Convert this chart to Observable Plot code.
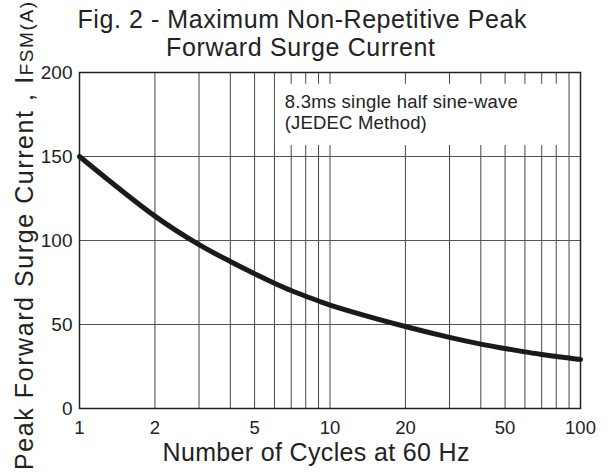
<!DOCTYPE html>
<html>
<head>
<meta charset="utf-8">
<script src="https://cdn.jsdelivr.net/npm/d3@7"></script>
<script src="https://cdn.jsdelivr.net/npm/@observablehq/plot@0.6"></script>
<style>
  html, body { margin: 0; padding: 0; background: #fff; }
  #chart svg { display: block; }
</style>
</head>
<body>
<div id="chart"></div>
<script>
// Data
const cycles = [1, 2, 3, 4, 5, 6, 7, 8, 9, 10, 20, 30, 40, 50, 60, 70, 80, 90, 100];
const surgeCurrent = [150, 114.5, 97.5, 87.5, 80.2, 74.6, 70.2, 66.8, 64, 61.6, 48.8, 42.3, 38.3, 35.7, 33.7, 32.2, 31, 30, 29.2];
const xGrid = [1, 2, 3, 4, 5, 6, 7, 8, 9, 10, 20, 30, 40, 50, 60, 70, 80, 90, 100];
const yGrid = [0, 50, 100, 150, 200];
const xTickLabels = [1, 2, 5, 10, 20, 50, 100];
const yTickLabels = [0, 50, 100, 150, 200];
const titleLines = ["Fig. 2 - Maximum Non-Repetitive Peak", "Forward Surge Current"];
const noteText = "8.3ms single half sine-wave\n(JEDEC Method)";
const noteBox = [{x1: 6, x2: 90, y1: 156.5, y2: 193}];
const notePos = [{x: 6.6, y: 187.9, text: noteText}];
const xLabel = "Number of Cycles at 60 Hz";

const data = cycles.map((c, i) => ({cycles: c, current: surgeCurrent[i]}));
const font = "'Liberation Sans', Arial, Helvetica, sans-serif";

const plot = Plot.plot({
  width: 611,
  height: 473,
  marginTop: 72,
  marginBottom: 65,
  marginLeft: 79,
  marginRight: 31,
  style: {fontFamily: font, background: "#fff", color: "#222"},
  x: {type: "log", domain: [1, 100], ticks: xTickLabels, tickFormat: d => String(d), label: null},
  y: {domain: [0, 200], ticks: yTickLabels, label: null},
  marks: [
    Plot.ruleX(xGrid, {stroke: "#444", strokeWidth: 1}),
    Plot.ruleY(yGrid, {stroke: "#555", strokeWidth: 1}),
    Plot.rect(noteBox, {x1: "x1", x2: "x2", y1: "y1", y2: "y2", fill: "#fff", insetLeft: 1, insetRight: 1}),
    Plot.text(notePos, {x: "x", y: "y", text: "text", textAnchor: "start", lineAnchor: "top", lineHeight: 1.15, fontSize: 18.5, fill: "#222", className: "note"}),
    Plot.frame({stroke: "#222", strokeWidth: 1.5}),
    Plot.axisX({ticks: xTickLabels, tickFormat: d => String(d), tickSize: 0, tickPadding: 12, fontSize: 18.5, label: null}),
    Plot.axisY({ticks: yTickLabels, tickSize: 0, tickPadding: 7, fontSize: 19, label: null}),
    Plot.line(data, {x: "cycles", y: "current", curve: "catmull-rom", stroke: "#1a1a1a", strokeWidth: 5, strokeLinecap: "round"})
  ]
});

document.getElementById("chart").appendChild(plot);

const svg = d3.select(plot);
// stretch annotation lines to the reference's widths
const noteWidths = [233, 142];
svg.selectAll(".note text tspan").each(function(d, i) {
  if (i < noteWidths.length) d3.select(this).attr("textLength", noteWidths[i]).attr("lengthAdjust", "spacing");
});

// Title
svg.append("text")
  .attr("x", 302).attr("y", 28)
  .attr("text-anchor", "middle")
  .attr("font-family", font).attr("font-size", 25).attr("fill", "#222")
  .attr("textLength", 449).attr("lengthAdjust", "spacing")
  .text(titleLines[0]);
svg.append("text")
  .attr("x", 300.5).attr("y", 56)
  .attr("text-anchor", "middle")
  .attr("font-family", font).attr("font-size", 25).attr("fill", "#222")
  .attr("textLength", 269).attr("lengthAdjust", "spacing")
  .text(titleLines[1]);
// X axis label
svg.append("text")
  .attr("x", 316).attr("y", 461)
  .attr("text-anchor", "middle")
  .attr("font-family", font).attr("font-size", 25).attr("fill", "#222")
  .attr("textLength", 307).attr("lengthAdjust", "spacing")
  .text(xLabel);
// Y axis label with smaller subscript part
const yl = svg.append("text")
  .attr("transform", "translate(33,236) rotate(-90)")
  .attr("text-anchor", "middle")
  .attr("font-family", font).attr("font-size", 25).attr("fill", "#222")
  .attr("textLength", 468).attr("lengthAdjust", "spacing");
yl.append("tspan").text("Peak Forward Surge Current , I");
yl.append("tspan").attr("font-size", 19).text("FSM(A)");
</script>
</body>
</html>
